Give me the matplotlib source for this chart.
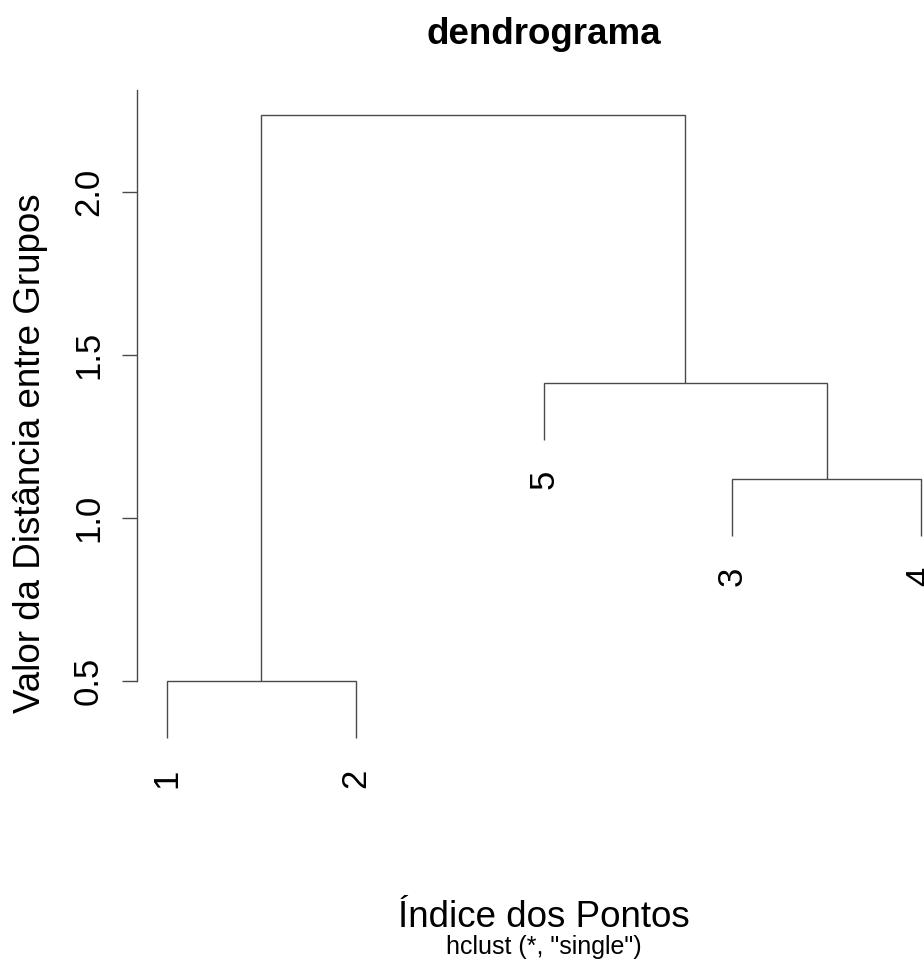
import numpy as np
import matplotlib.pyplot as plt

# hclust result (R convention: negative = single point, positive = earlier merge)
leaf_labels = ["1", "2", "3", "4", "5"]
leaf_order = [1, 2, 5, 3, 4]
merge_left = [-1, -3, -5, 1]
merge_right = [-2, -4, 2, 3]
merge_height = [0.5, 1.118, 1.414, 2.236]
y_ticks = [0.5, 1.0, 1.5, 2.0]
hang = 0.1

plt.rcParams['font.family'] = ['Liberation Sans', 'DejaVu Sans']

W, H = 924, 964
fig = plt.figure(figsize=(W / 100, H / 100), dpi=100)
ax = fig.add_axes([137 / W, (H - 762.5) / H, 814 / W, 672.5 / H])

n = len(leaf_order)
hmax, hmin = max(merge_height), min(merge_height)
drop = hang * (hmax - hmin)

leaf_x = {leaf: i + 1 for i, leaf in enumerate(leaf_order)}
node_x = {}
line_kw = dict(color="#4a4a4a", lw=1.0, solid_capstyle="butt", solid_joinstyle="miter")


def child_pos(c, h):
    if c < 0:
        return leaf_x[-c], h - drop
    return node_x[c], merge_height[c - 1]


for i, (a, b, h) in enumerate(zip(merge_left, merge_right, merge_height), start=1):
    xa, ya = child_pos(a, h)
    xb, yb = child_pos(b, h)
    ax.plot([xa, xa, xb, xb], [ya, h, h, yb], **line_kw)
    node_x[i] = (xa + xb) / 2
    for c, xc, yc in ((a, xa, ya), (b, xb, yb)):
        if c < 0:
            ax.annotate(leaf_labels[-c - 1], (xc, yc), xytext=(0, -22),
                        textcoords="offset points", rotation=90,
                        ha="center", va="top", fontsize=25, annotation_clip=False)

pad_x = 0.04 * (n - 1)
ax.set_xlim(1 - pad_x, n + pad_x)
ylo, yhi = hmin - drop, hmax
pad_y = 0.04 * (yhi - ylo)
ax.set_ylim(ylo - pad_y, yhi + pad_y)

for s in ["top", "right", "bottom"]:
    ax.spines[s].set_visible(False)
ax.spines["left"].set_bounds(y_ticks[0], yhi + pad_y)
ax.spines["left"].set_color("#4a4a4a")
ax.spines["left"].set_linewidth(1.0)
ax.set_xticks([])
ax.set_yticks(y_ticks)
ax.set_yticklabels([f"{t:.1f}" for t in y_ticks], rotation=90, va="center")
ax.tick_params(axis="y", direction="out", length=11, width=1.0, color="#4a4a4a",
               labelsize=25, pad=12)

fig.text(544 / W, 1 - 44 / H, "dendrograma", ha="center", va="baseline",
         fontsize=26.5, fontweight="bold")
fig.text(544 / W, 1 - 927 / H, "Índice dos Pontos", ha="center", va="baseline",
         fontsize=26.5)
fig.text(544 / W, 1 - 954 / H, 'hclust (*, "single")', ha="center", va="baseline",
         fontsize=18)
fig.text(31 / W, 1 - 453 / H, "Valor da Distância entre Grupos", rotation=90,
         ha="center", va="center", fontsize=26.5)

fig.savefig("out.png", dpi=100)
